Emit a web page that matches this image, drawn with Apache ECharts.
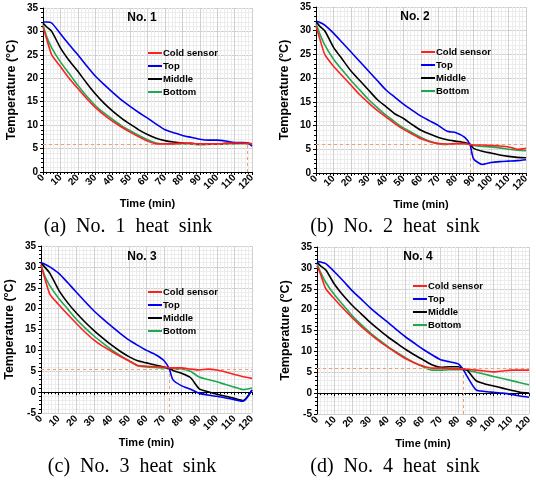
<!DOCTYPE html>
<html><head><meta charset="utf-8">
<script src="https://cdn.jsdelivr.net/npm/echarts@6/dist/echarts.min.js"></script>
<style>html,body{margin:0;padding:0;background:#fff}#c{width:536px;height:482px}</style>
</head><body><div id="c"></div>
<script>
const seriesNames = ['Cold sensor','Top','Middle','Bottom'];
const panelTitles = ['No. 1','No. 2','No. 3','No. 4'];
const captions = ['(a)  No.  1  heat  sink','(b)  No.  2  heat  sink','(c)  No.  3  heat  sink','(d)  No.  4  heat  sink'];
const xTicks = [0,10,20,30,40,50,60,70,80,90,100,110,120];

const p1Time = [0,2,5,10,15,20,25,30,35,40,45,50,55,60,65,70,75,80,85,90,95,100,105,110,115,118,120];
const p1Cold = [31,28.5,25,22.5,20,17.8,15.7,13.8,12.2,10.8,9.6,8.5,7.5,6.6,6,6,6,6.2,6.1,6,6,6,6.1,6.2,6.2,6.1,6];
const p1Top = [32,32,31.8,29.5,27.2,25,22.7,20.5,18.7,17,15.4,14,12.7,11.5,10.2,9,8.4,7.8,7.4,7,6.8,6.8,6.6,6.3,6.3,6.1,5.5];
const p1Mid = [31.8,31,30,26.5,23.8,21.5,19,16.7,14.7,13,11.5,10.2,9,8,7.2,6.7,6.4,6.2,6.1,6,6,6,6.1,6.2,6.2,6.1,6];
const p1Bot = [31.5,29,26.5,23.5,21,18.5,16.2,14.2,12.6,11.2,9.9,8.8,7.8,6.9,6.2,6,6,6,6,5.8,5.9,6,6,6,6.1,6,6];

const p2Time = [0,2,5,10,15,20,25,30,35,40,45,50,55,60,65,70,75,80,85,88,90,95,100,105,110,115,120];
const p2Cold = [31,28.5,25,22.5,20.5,18.5,16.5,14.8,13.2,11.8,10.4,9.2,8.2,7.2,6.6,6.2,6.1,6.2,6.2,6,5.9,5.9,5.8,5.7,5.5,5,5.2];
const p2Top = [32,31.8,31.2,29.5,27.5,25.5,23.5,21.5,19.5,17.5,16,14.5,13.2,12,11,10,8.8,8.5,7.5,6,3,1.8,2.2,2.4,2.5,2.6,2.8];
const p2Mid = [32,31,30,26.5,24,21.5,19.5,17.5,15.5,14,12.5,11.5,10.2,9,8.2,7.5,7,6.7,6.4,6,5.2,4.6,4.2,3.8,3.5,3.3,3.2];
const p2Bot = [31.5,29.5,27,24,21.7,19.5,17.5,15.5,13.8,12.2,10.8,9.5,8.5,7.5,6.7,6.2,6,6.2,6.2,6,5.8,5.6,5.5,5.3,5,4.8,4.7];

const p3Time = [0,2,5,10,15,20,25,30,35,40,45,50,55,60,65,70,73,75,80,85,90,95,100,105,110,115,120];
const p3Cold = [30.5,27.5,23.5,21,18.7,16.5,14.4,12.5,11,9.8,8.6,7.5,6.4,6.2,6.1,6,5.8,5.8,5.8,5.5,5.3,5.5,5.3,4.8,4.2,3.7,3.3];
const p3Top = [31,30.7,30,28.5,26.3,24,21.7,19.5,17.6,15.8,14.1,12.5,11.2,10,9,7.5,5.5,3,1.5,0.7,-0.3,-0.7,-1,-1.4,-1.8,-2.2,0.5];
const p3Mid = [31,30,28.5,24.5,21.5,19,16.8,14.8,13,11.3,9.8,8.5,7.5,7,6.5,6,5.6,5.2,4.5,3.5,0.8,0.1,-0.5,-1,-1.5,-2,0.5];
const p3Bot = [30.5,28,25.5,22.5,20,17.5,15.4,13.5,11.8,10.2,8.8,7.5,6.3,6,5.9,5.8,5.6,5.5,5.5,5,3.6,3,2.5,1.8,1.2,0.6,1];

const p4Time = [0,2,5,10,15,20,25,30,35,40,45,50,55,60,65,70,75,80,83,85,90,95,100,105,110,115,120];
const p4Cold = [30.5,28.5,25,22.5,20.2,18,16,14.2,12.5,11,9.6,8.3,7.3,6.5,6,6,5.9,5.8,5.8,5.7,5.5,5.3,5.1,5.3,5.5,5.5,5.5];
const p4Top = [31.5,31.4,31,29,26.8,24.5,22.5,20.5,18.7,17,15.2,13.5,12,10.5,9.2,8,7.5,7,5.5,4,0.8,0.4,0.2,0,-0.3,-0.7,-1];
const p4Mid = [31.3,30.5,29.5,26,23.3,21,19,17,15.2,13.5,12,10.5,9.2,8,6.8,6.2,6.3,6.3,5.8,5.5,3,2.2,1.7,1.2,0.7,0.2,0];
const p4Bot = [31,29,26.5,23.5,21,18.5,16.4,14.5,12.8,11.2,9.8,8.5,7.3,6.3,5.5,5.5,5.6,5.6,5.6,5.5,5,4.5,4,3.5,3,2.5,2];

const refY = [6, 6, 5.5, 6];
const refX = [117, 88, 73, 83];
const yMins = [0, 0, -5, -5];
const yMax = 35;

const panels = [
  {time:p1Time, vals:[p1Cold,p1Top,p1Mid,p1Bot]},
  {time:p2Time, vals:[p2Cold,p2Top,p2Mid,p2Bot]},
  {time:p3Time, vals:[p3Cold,p3Top,p3Mid,p3Bot]},
  {time:p4Time, vals:[p4Cold,p4Top,p4Mid,p4Bot]}
];

const colors = ['#ff2020','#0000ee','#000000','#1fa851'];
const grids = [
  {left:43, top:8, width:209, height:164},
  {left:316, top:7, width:210, height:166},
  {left:41, top:246, width:211, height:167},
  {left:317, top:247, width:212, height:167}
];
const legendPos = [{left:148, top:48},{left:421, top:47},{left:148, top:287},{left:413, top:281}];
const titlePos = [[142,18],[415,17],[142,257],[418,257]];
const captionPos = [[128,227],[395,227],[132,467],[395,467]];

const font = 'Liberation Sans, Arial, sans-serif';
const xAxes = [], yAxes = [], series = [], legends = [], graphics = [];

grids.forEach((g, i) => {
  const neg = yMins[i] < 0;
  xAxes.push({
    gridIndex:i, type:'value', min:0, max:120, interval:10,
    name:'Time (min)', nameLocation:'middle', nameGap: neg ? 24 : 26,
    nameTextStyle:{fontFamily:font, fontWeight:'bold', fontSize:11, color:'#000'},
    axisLine:{show:!neg, onZero:false, lineStyle:{color:'#000', width:1}},
    axisTick:{show:!neg, length:3, lineStyle:{color:'#000'}},
    minorTick:{show:!neg, splitNumber:5, length:2, lineStyle:{color:'#000'}},
    axisLabel:{rotate:45, fontFamily:font, fontWeight:'bold', fontSize:10, color:'#000', margin:4,
      formatter: v => xTicks.includes(v) ? String(v) : ''},
    splitLine:{show:true, lineStyle:{color:'#d0d0d0', width:1}},
    minorSplitLine:{show:true, lineStyle:{color:'#ececec', width:1}}
  });
  yAxes.push({
    gridIndex:i, type:'value', min:yMins[i], max:yMax, interval:5,
    name:'Temperature (°C)', nameLocation:'middle', nameGap: 25,
    nameTextStyle:{fontFamily:font, fontWeight:'bold', fontSize:12.5, color:'#000'},
    axisLine:{show:true, onZero:false, lineStyle:{color:'#000', width:1}},
    axisTick:{show:true, length:3, lineStyle:{color:'#000'}},
    minorTick:{show:true, splitNumber:5, length:2, lineStyle:{color:'#000'}},
    axisLabel:{fontFamily:font, fontWeight:'bold', fontSize:10, color:'#000', margin:5},
    splitLine:{show:true, lineStyle:{color:'#d0d0d0', width:1}},
    minorSplitLine:{show:true, lineStyle:{color:'#ececec', width:1}}
  });
});
// zero-line axes for panels with negative values
[2,3].forEach(i => {
  xAxes.push({
    gridIndex:i, type:'value', min:0, max:120, interval:10,
    axisLine:{show:true, onZero:true, lineStyle:{color:'#000', width:1}},
    axisTick:{show:true, length:3, inside:true, lineStyle:{color:'#000'}},
    minorTick:{show:true, splitNumber:5, length:2, lineStyle:{color:'#000'}},
    axisLabel:{show:false}, splitLine:{show:false}
  });
});

panels.forEach((p, i) => {
  seriesNames.forEach((nm, k) => {
    const s = {
      name:nm, type:'line', xAxisIndex:i, yAxisIndex:i, showSymbol:false, symbol:'none',
      smooth:0.2, color:colors[k], lineStyle:{width:1.6, color:colors[k]},
      data: p.time.map((t, j) => [t, p.vals[k][j]]), z: 3 + (3-k), animation:false
    };
    if (k === 0) {
      s.markLine = {
        silent:true, symbol:'none', animation:false,
        lineStyle:{type:[3,3], color:'#f0a070', width:1},
        label:{show:false},
        data:[
          [{coord:[0, refY[i]]},{coord:[120, refY[i]]}],
          [{coord:[refX[i], yMins[i]]},{coord:[refX[i], refY[i]]}]
        ]
      };
    }
    series.push(s);
  });
  legends.push({
    left:legendPos[i].left, top:legendPos[i].top, orient:'vertical',
    data:seriesNames.map(n => ({name:n, icon:'rect'})),
    itemWidth:14, itemHeight:2, itemGap:3,
    textStyle:{fontFamily:font, fontWeight:'bold', fontSize:9.5, color:'#000', padding:[0,0,0,-4]},
    selectedMode:false, padding:0
  });
  graphics.push({type:'text', x:titlePos[i][0], y:titlePos[i][1], z:100, zlevel:0,
    style:{text:panelTitles[i], fontFamily:font, fontWeight:'bold', fontSize:12, fill:'#000', align:'center', verticalAlign:'middle'}});
  graphics.push({type:'text', x:captionPos[i][0], y:captionPos[i][1], z:100,
    style:{text:captions[i], fontFamily:'Liberation Serif, Times New Roman, serif', fontSize:20, fill:'#000', align:'center', verticalAlign:'middle'}});
});

const chart = echarts.init(document.getElementById('c'), null, {renderer:'canvas'});
chart.setOption({
  animation:false,
  grid:grids.map(g => Object.assign({containLabel:false}, g)),
  xAxis:xAxes, yAxis:yAxes, series:series, legend:legends, graphic:graphics
});
</script></body></html>
